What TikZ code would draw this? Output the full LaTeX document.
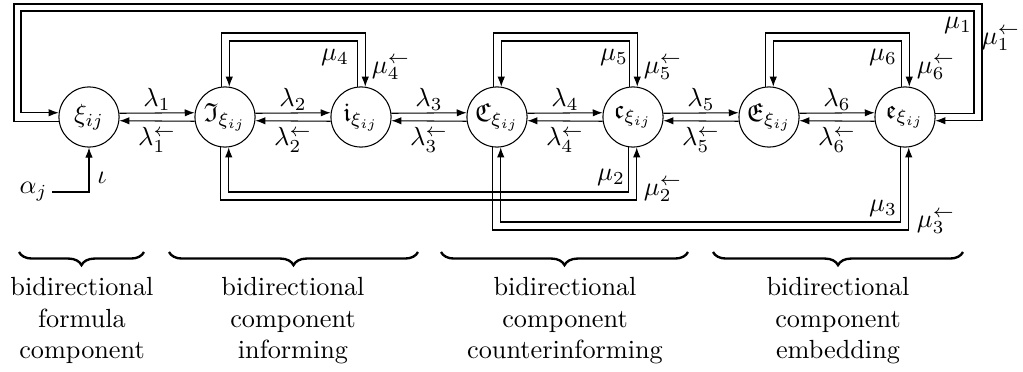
\documentclass[tikz,border=0pt]{standalone}
\usepackage{amsmath,amssymb}
\usetikzlibrary{arrows.meta,decorations.pathreplacing}
\begin{document}
\begin{tikzpicture}[x=0.381pt,y=-0.381pt,
  st/.style={circle,draw,minimum size=22.9pt,inner sep=1pt},
  con/.style={-{Latex[length=3.8pt,width=2.8pt]}},
  lab/.style={inner sep=0pt},
  brc/.style={decorate,decoration={brace,mirror,amplitude=5pt},line width=0.9pt},
  txt/.style={align=center,anchor=north,inner sep=0pt}]
\useasboundingbox (0,0) rectangle (1023,372);
% states
\node[st] (xi) at (89,117) {$\xi_{ij}$};
\node[st] (I) at (225,117) {$\mathfrak{I}_{\xi_{ij}}$};
\node[st] (i) at (361,117) {$\mathfrak{i}_{\xi_{ij}}$};
\node[st] (C) at (497,117) {$\mathfrak{C}_{\xi_{ij}}$};
\node[st] (c) at (633,117) {$\mathfrak{c}_{\xi_{ij}}$};
\node[st] (E) at (769,117) {$\mathfrak{E}_{\xi_{ij}}$};
\node[st] (e) at (905,117) {$\mathfrak{e}_{\xi_{ij}}$};
% horizontal pairs
\foreach \a/\b/\k/\m in {xi/I/1/157, I/i/2/293, i/C/3/429, C/c/4/565, c/E/5/701, E/e/6/837}{
  \draw[con] (\a.7.66) -- (\b.172.34);
  \draw[con] (\b.-172.34) -- (\a.-7.66);
  \node[lab] at (\m,99) {$\lambda_{\k}$};
  \node[lab] at (\m,140) {$\lambda_{\k}^{\leftarrow}$};
}
% top loops
\foreach \a/\b in {I/i, C/c, E/e}{
  \draw[con] (\b.97.66) -- (\b.97.66 |- 0,41) -- (\a.82.34 |- 0,41) -- (\a.82.34);
  \draw[con] (\a.97.66) -- (\a.97.66 |- 0,33) -- (\b.82.34 |- 0,33) -- (\b.82.34);
}
\node[lab] at (335,57) {$\mu_4$};
\node[lab] at (391,68) {$\mu_4^{\leftarrow}$};
\node[lab] at (614,57) {$\mu_5$};
\node[lab] at (663,68) {$\mu_5^{\leftarrow}$};
\node[lab] at (883,57) {$\mu_6$};
\node[lab] at (936,68) {$\mu_6^{\leftarrow}$};
% bottom loops
\draw[con] (c.262.34) -- (c.262.34 |- 0,192) -- (I.277.66 |- 0,192) -- (I.277.66);
\draw[con] (I.262.34) -- (I.262.34 |- 0,200) -- (c.277.66 |- 0,200) -- (c.277.66);
\draw[con] (e.262.34) -- (e.262.34 |- 0,222) -- (C.277.66 |- 0,222) -- (C.277.66);
\draw[con] (C.262.34) -- (C.262.34 |- 0,230) -- (e.277.66 |- 0,230) -- (e.277.66);
\node[lab] at (611,177) {$\mu_2$};
\node[lab] at (663,190) {$\mu_2^{\leftarrow}$};
\node[lab] at (883,208) {$\mu_3$};
\node[lab] at (936,222) {$\mu_3^{\leftarrow}$};
% outer loop
\draw[con] (e.7.66) -- (e.7.66 -| 974,0) -- (974,11) -- (21,11) -- (xi.172.34 -| 21,0) -- (xi.172.34);
\draw[con] (xi.-172.34) -- (xi.-172.34 -| 14,0) -- (14,4) -- (982,4) -- (e.-7.66 -| 982,0) -- (e.-7.66);
\node[lab] at (958,25) {$\mu_1$};
\node[lab] at (1001,39) {$\mu_1^{\leftarrow}$};
% input
\node[lab,anchor=east,inner sep=1.5pt] (alpha) at (52,192) {$\alpha_j$};
\draw[con] (alpha.east) -| (xi.south);
\node[lab] at (102,178) {$\iota$};
% braces
\draw[brc] (19,252) -- (144,252);
\draw[brc] (169,252) -- (418,252);
\draw[brc] (441,252) -- (688,252);
\draw[brc] (713,252) -- (963,252);
\node[txt] (t1) at (82,277) {bidirectional\\formula\\component};
\node[txt] (t2) at (293,277) {bidirectional\\component\\informing};
\node[txt] (t3) at (565,277) {bidirectional\\component\\counterinforming};
\node[txt] (t4) at (838,277) {bidirectional\\component\\embedding};
\end{tikzpicture}
\end{document}
